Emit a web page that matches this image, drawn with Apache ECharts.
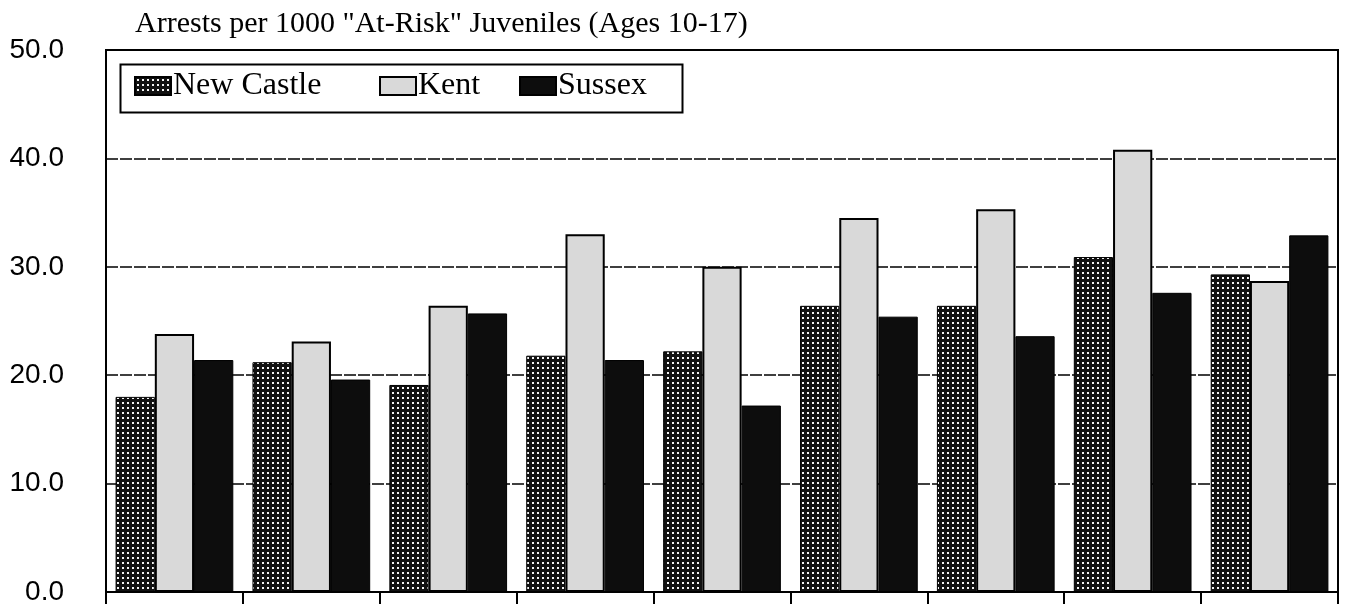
<!DOCTYPE html>
<html>
<head>
<meta charset="utf-8">
<script src="https://cdn.jsdelivr.net/npm/echarts@6/dist/echarts.min.js"></script>
<style>
html,body{margin:0;padding:0;background:#fff;}
#chart{width:1347px;height:606px;}
</style>
</head>
<body>
<div id="chart"></div>
<script>
const categories = ['1', '2', '3', '4', '5', '6', '7', '8', '9'];
const newCastle = [18.0, 21.2, 19.1, 21.8, 22.2, 26.4, 26.4, 30.9, 29.3];
const kent      = [23.8, 23.1, 26.4, 33.0, 30.0, 34.5, 35.3, 40.8, 28.7];
const sussex    = [21.4, 19.6, 25.7, 21.4, 17.2, 25.4, 23.6, 27.6, 32.9];
const seriesNames = ['New Castle', 'Kent', 'Sussex'];
const titleText = 'Arrests per 1000 "At-Risk" Juveniles (Ages 10-17)';

function dotPattern() {
  const c = document.createElement('canvas');
  c.width = 5; c.height = 5;
  const g = c.getContext('2d');
  g.fillStyle = '#111';
  g.fillRect(0, 0, 5, 5);
  g.fillStyle = '#f4f4f4';
  g.fillRect(2, 2, 2, 2);
  return c;
}

const chart = echarts.init(document.getElementById('chart'));
const serif = 'Liberation Serif, Times New Roman, serif';
const legendBase = {
  orient: 'horizontal', top: 70, padding: 0, itemGap: 0,
  itemWidth: 36, itemHeight: 18, icon: 'rect',
  textStyle: { fontFamily: serif, fontSize: 32, color: '#000', padding: [0, 0, 0, -3] }
};

chart.setOption({
  animation: false,
  backgroundColor: '#fff',
  title: {
    text: titleText, left: 130, top: 4,
    textStyle: { fontFamily: serif, fontSize: 30, fontWeight: 'normal', color: '#000' }
  },
  legend: [
    Object.assign({}, legendBase, { left: 134, data: [seriesNames[0]] }),
    Object.assign({}, legendBase, { left: 379, data: [seriesNames[1]] }),
    Object.assign({}, legendBase, { left: 519, data: [seriesNames[2]] })
  ],
  graphic: [{
    type: 'rect', left: 118, top: 62, z: 100,
    shape: { width: 562, height: 48 },
    style: { fill: 'none', stroke: '#000', lineWidth: 2 }
  }],
  grid: {
    left: 106, right: 9, top: 50, bottom: 8,
    show: true, borderColor: '#000', borderWidth: 2, backgroundColor: '#fff'
  },
  xAxis: {
    type: 'category', data: categories,
    axisLine: { lineStyle: { color: '#000', width: 2 } },
    axisTick: { show: true, length: 12, lineStyle: { color: '#000', width: 2 } },
    axisLabel: { show: false },
    splitLine: { show: false }
  },
  yAxis: {
    type: 'value', min: 0, max: 50, interval: 10,
    axisLine: { show: true, lineStyle: { color: '#000', width: 2 } },
    axisTick: { show: false },
    axisLabel: {
      margin: 42, color: '#000', fontSize: 28,
      fontFamily: 'Liberation Sans, Arial, sans-serif',
      formatter: v => v.toFixed(1)
    },
    splitLine: { show: true, lineStyle: { color: '#000', width: 1.5, type: [12, 2] } }
  },
  series: [
    {
      name: seriesNames[0], type: 'bar', data: newCastle,
      barGap: '0%', barCategoryGap: '14%',
      itemStyle: { color: { image: dotPattern(), repeat: 'repeat' }, borderColor: '#000', borderWidth: 1 }
    },
    {
      name: seriesNames[1], type: 'bar', data: kent,
      itemStyle: { color: '#d9d9d9', borderColor: '#000', borderWidth: 2 }
    },
    {
      name: seriesNames[2], type: 'bar', data: sussex,
      itemStyle: { color: '#0d0d0d', borderColor: '#000', borderWidth: 1 }
    }
  ]
});
</script>
</body>
</html>
